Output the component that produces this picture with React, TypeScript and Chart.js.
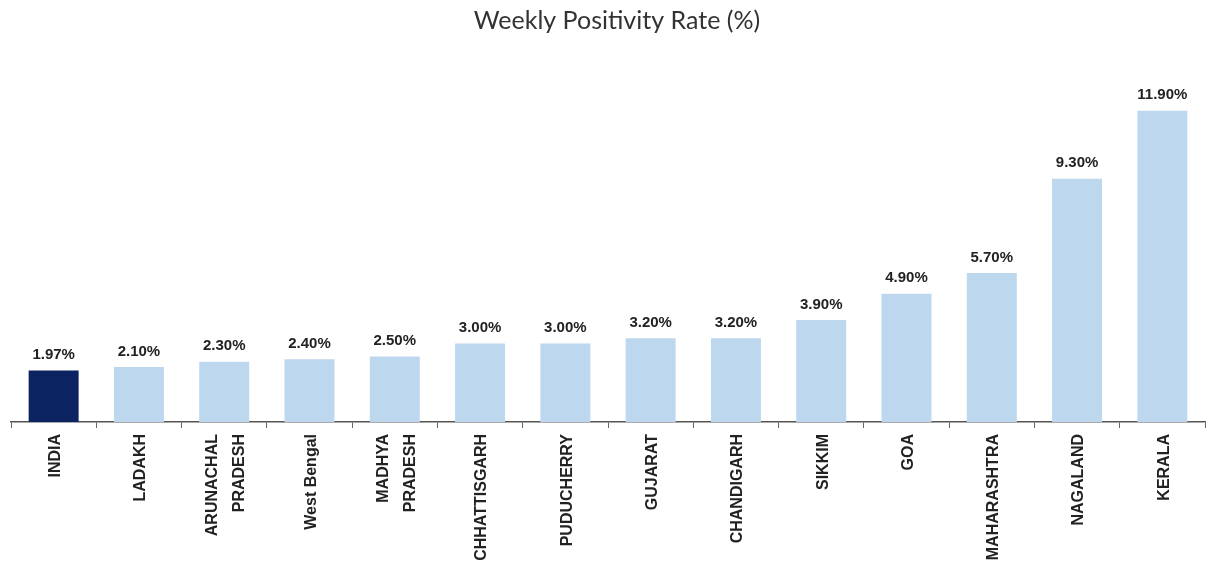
import React, { useEffect, useRef } from "react";
import { Chart, registerables } from "chart.js";

Chart.register(...registerables);

const categories: string[][] = [
  ["INDIA"],
  ["LADAKH"],
  ["ARUNACHAL", "PRADESH"],
  ["West Bengal"],
  ["MADHYA", "PRADESH"],
  ["CHHATTISGARH"],
  ["PUDUCHERRY"],
  ["GUJARAT"],
  ["CHANDIGARH"],
  ["SIKKIM"],
  ["GOA"],
  ["MAHARASHTRA"],
  ["NAGALAND"],
  ["KERALA"],
];

const positivityRate: number[] = [1.97, 2.1, 2.3, 2.4, 2.5, 3.0, 3.0, 3.2, 3.2, 3.9, 4.9, 5.7, 9.3, 11.9];

const titleText = "Weekly Positivity Rate (%)";

const barColors = positivityRate.map((_, i) => (i === 0 ? "#0b2361" : "#bdd7ee"));

const customTextPlugin = {
  id: "customText",
  afterDraw(chart: any) {
    const { ctx } = chart;
    const meta = chart.getDatasetMeta(0);
    const xScale = chart.scales.x;
    ctx.save();
    // value labels
    ctx.font = "bold 15px 'Liberation Sans', sans-serif";
    ctx.fillStyle = "#222222";
    ctx.textAlign = "center";
    ctx.textBaseline = "bottom";
    meta.data.forEach((el: any, i: number) => {
      const v = chart.data.datasets[0].data[i] as number;
      ctx.fillText(v.toFixed(2) + "%", el.x, el.y - 8);
    });
    // category labels (rotated)
    ctx.font = "bold 16px 'Liberation Sans', sans-serif";
    ctx.fillStyle = "#222222";
    const labels = chart.data.labels as string[][];
    const yStart = xScale.top + 12;
    labels.forEach((lines, i) => {
      const x = xScale.getPixelForValue(i);
      const n = lines.length;
      const spacing = 27;
      lines.forEach((line, j) => {
        const lx = x + (j - (n - 1) / 2) * spacing + 2;
        ctx.save();
        ctx.translate(lx, yStart);
        ctx.rotate(-Math.PI / 2);
        ctx.textAlign = "right";
        ctx.textBaseline = "middle";
        ctx.fillText(line, 0, 0);
        ctx.restore();
      });
    });
    // title
    ctx.font = "25px Lato, 'Noto Sans', sans-serif";
    ctx.fillStyle = "#333333";
    ctx.textAlign = "center";
    ctx.textBaseline = "alphabetic";
    ctx.fillText(titleText, 617, 29);
    ctx.restore();
  },
};

export default function App() {
  const ref = useRef<HTMLCanvasElement | null>(null);
  useEffect(() => {
    if (!ref.current) return;
    const chart = new Chart(ref.current, {
      type: "bar",
      data: {
        labels: categories,
        datasets: [
          {
            data: positivityRate,
            backgroundColor: barColors,
            borderWidth: 0,
            categoryPercentage: 1,
            barPercentage: 0.586,
          },
        ],
      },
      options: {
        animation: false,
        responsive: true,
        maintainAspectRatio: false,
        layout: { padding: { left: 11, right: 8, top: 82, bottom: 0 } },
        plugins: {
          legend: { display: false },
          tooltip: { enabled: false },
          title: { display: false },
        },
        scales: {
          x: {
            afterFit: (scale: any) => {
              scale.height = 152;
            },
            grid: {
              display: true,
              drawOnChartArea: false,
              drawTicks: true,
              tickLength: 6,
              color: "#666666",
              offset: true,
            },
            border: { display: true, color: "#555555", width: 1.5 },
            ticks: {
              display: false,
              autoSkip: false,
            },
          },
          y: {
            display: false,
            min: 0,
            max: 13,
          },
        },
      },
      plugins: [customTextPlugin],
    });
    return () => chart.destroy();
  }, []);
  return (
    <div style={{ position: "fixed", left: 0, top: 0, width: 1213, height: 574, background: "#ffffff" }}>
      <canvas ref={ref} />
    </div>
  );
}
